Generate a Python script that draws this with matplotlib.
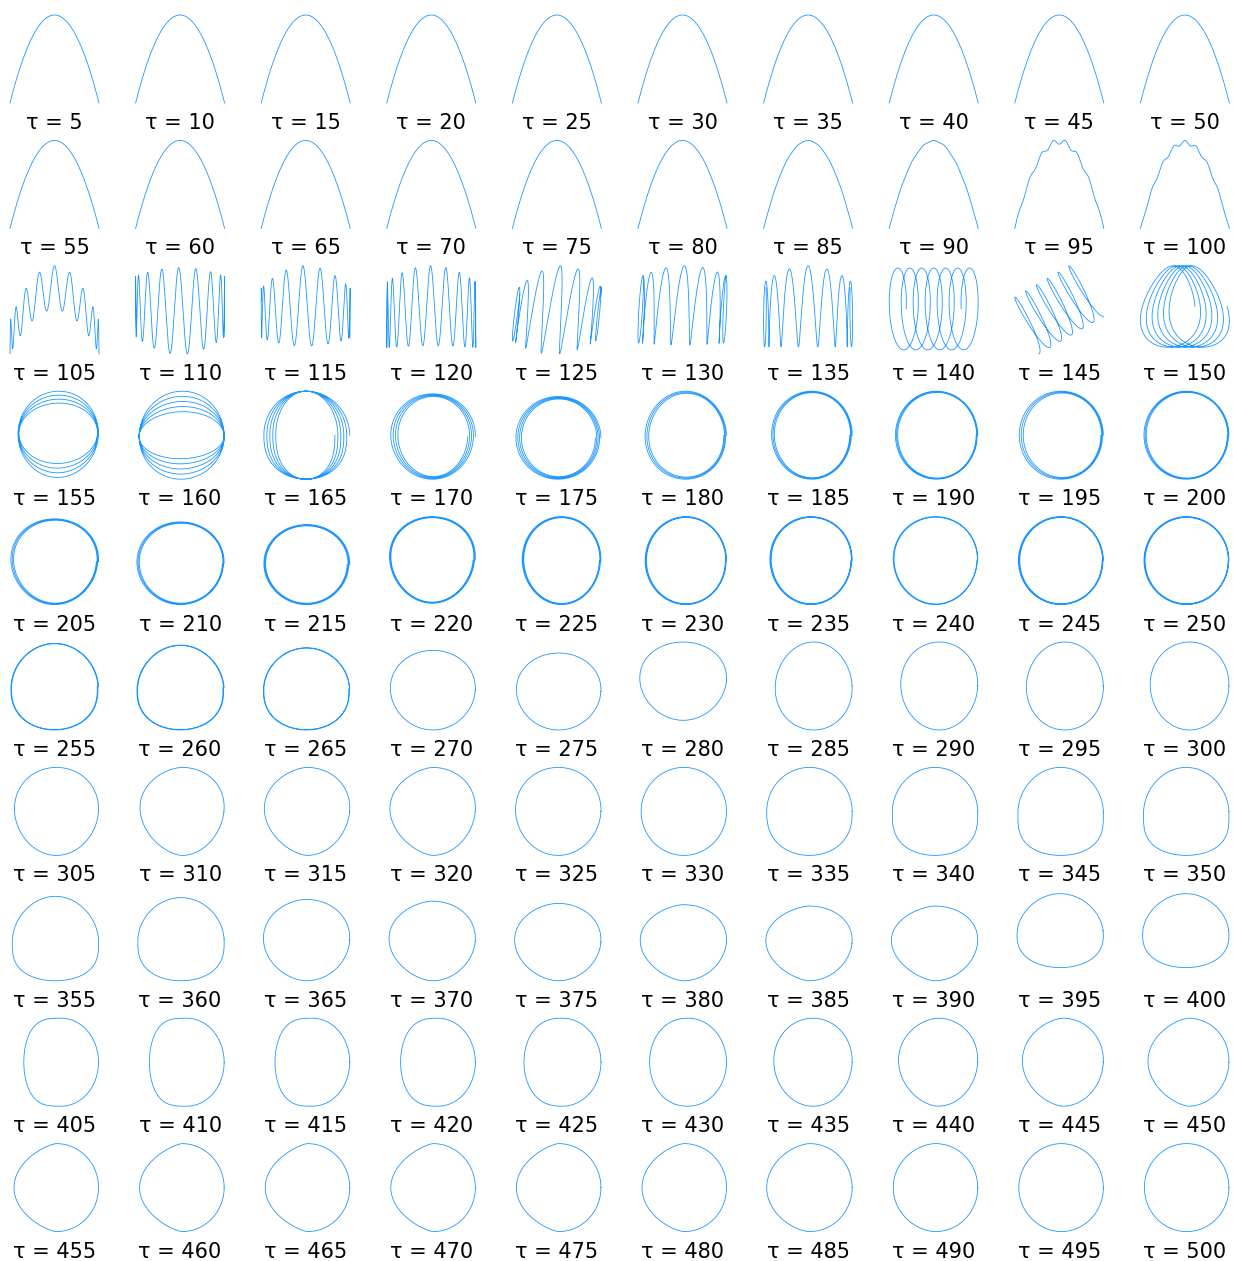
import numpy as np
import matplotlib
matplotlib.use('Agg')
import matplotlib.pyplot as plt

# delay values, one panel each (10 x 10)
taus = list(range(5, 505, 5))

# tau 5..100 : parabola arches, ripple on top for the last ones
arch_ripple = [0] * 16 + [0.005, 0.01, 0.06, 0.05]
arch_cycles = [0] * 16 + [8, 8, 7.5, 8]
arch_phase = [0] * 16 + [0, 0, np.pi, 0]

# tau 105..135 : oscillating traces
wave_k = [18, 16, 16, 18, 14, 14, 14]
wave_span = [1.571, 1.75, 1.7, 1.75, 1.8, 1.8, 1.75]
wave_phase = [0, 0.5, 1.0, 0.3, 0.8, 0.2, 0]
wave_top_mid = [1, 0.95, 1, 1, 1, 0.95, 1]
wave_top_edge = [-0.25, 0.75, 0.45, 0.6, 0.5, 0.7, 0.6]
wave_bot_mid = [0, -1, -0.95, -0.95, -1, -0.95, -1]
wave_bot_edge = [-1, -0.6, -0.75, -1, -0.7, -0.9, -1]
wave_width = [0, 0, 0, 0, 0.03, 0.04, 0.03]
wave_lean = [0, 0, 0, 0, 0.12, 0.05, 0]
wave_y0 = [-1, -1, -0.82, -0.86, -1, -0.8, -0.84]
wave_y1 = [1, 0.96, 1, 1, 1, 1, 1]

# tau 140..150 : drifting loops
loop_turns = [6.5, 6, 6]
loop_start = [(-0.75, 0), (-0.64, -0.42), (-0.35, 0)]
loop_end = [(0.75, 0), (0.64, 0.45), (0.35, 0)]
loop_a = [(0.22, 0), (0.29, -0.62), (0.6, 0)]
loop_b = [(0, 0.95), (0.08, 0.04), (0, 1)]
loop_egg = [0, 0, -0.3]
loop_y0 = [-0.91, -1, -0.85]
loop_y1 = [0.95, 1, 1]

# tau 155..500 : rings / closed curves (rows of 10)
ring_turns = [4, 5, 5, 4, 4, 3, 3, 3, 3, 3,
              3, 3, 3, 3, 3, 3, 3, 2, 3, 3,
              2, 2, 2, 1, 1, 1, 1, 1, 1, 1] + [1] * 40
ring_rx = [0.97, 1.0, 0.66, 0.8, 0.85, 0.9, 0.92, 0.94, 0.9, 0.94,
           0.93, 0.94, 0.94, 0.95, 0.95, 0.96, 0.96, 0.97, 0.96, 0.97,
           0.97, 0.97, 0.98] + [1] * 47
ring_ry = [0.62, 0.45, 1.0, 0.92, 0.92, 0.93, 0.95, 0.96, 0.94, 0.96,
           0.95, 0.95, 0.95, 0.96, 0.96, 0.97, 0.97, 0.97, 0.97, 0.97,
           0.98, 0.98, 0.98] + [1] * 47
ring_dx = [0, 0, 0, 0.02, 0.02, 0.03, 0.02, 0.02, 0.04, 0.02,
           0.02, 0.02, 0, 0, 0.01, 0.01, 0.01, 0.01, 0.01, 0.01] + [0] * 50
ring_dy = [0.03] + [0] * 69
ring_egg = [0.03, 0, 0, 0.03, 0, -0.03, 0.02, 0, 0, 0,
            0.06, 0.03, 0.03, 0.08, 0.03, 0, 0.03, 0.04, 0, 0,
            -0.04, -0.06, -0.03, 0.05, 0.05, 0.08, -0.05, 0.04, -0.03, 0.03,
            0.06, 0.1, 0.08, 0.08, 0.04, 0, 0, -0.02, -0.04, -0.05,
            -0.08, -0.05, 0.05, 0.07, 0.06, 0.08, 0.09, 0.1, -0.1, -0.1,
            0, 0, 0, 0, 0, 0, 0.03, 0.05, 0.04, 0.03,
            0, 0, 0, 0, 0, 0, 0, 0, 0, 0]
ring_point = [1] * 10 + [1] * 10 + \
             [1, 1, 1, 1, 1, 1, 1, 1, 1, 1] + \
             [1, 1.2, 1.25, 1.3, 1, 1, 1, 1, 1, 1] + \
             [1, 1, 1.1, 1.2, 1.15, 1.25, 1.3, 1.3, 1, 1] + \
             [0.6, 0.6, 0.65, 0.7, 0.8, 0.9, 1, 1.15, 1.25, 1.35] + \
             [1.45, 1.5, 1.5, 1.5, 1.45, 1.35, 1.25, 1.1, 1.05, 1]
ring_flat = [1, 1, 0.8, 1, 1, 1, 1, 1, 1, 1] + [1] * 10 + \
            [0.85, 0.85, 0.85, 1, 1, 1, 1, 1, 1, 1] + \
            [1, 1, 1, 1, 1, 1, 0.8, 0.7, 0.65, 0.65] + \
            [0.7, 0.75, 1, 1, 1, 1, 1, 1, 0.85, 0.85] + [1] * 20
ring_x0 = [-0.82, -0.92, -0.94, -0.91, -0.92, -0.84, -0.82, -0.86, -0.9, -0.92,
           -0.98, -0.97, -0.94, -0.94, -0.78, -0.84, -0.86, -0.91, -0.92, -0.92,
           -0.98, -0.97, -0.95, -0.92, -0.91, -0.96, -0.74, -0.74, -0.74, -0.78,
           -0.9, -0.9, -0.93, -0.93, -0.93, -0.93, -0.93, -0.93, -0.93, -0.93,
           -0.95, -0.95, -0.95, -0.95, -0.95, -0.95, -0.95, -0.95, -0.95, -0.95,
           -0.69, -0.69, -0.69, -0.69, -0.74, -0.74, -0.77, -0.79, -0.83, -0.83,
           -0.91, -0.91, -0.91, -0.91, -0.91, -0.91, -0.93, -0.91, -0.91, -0.91]
ring_x1 = [0.99] * 70
ring_y0 = [-0.96] + [-1] * 12 + [-0.97] + [-1] * 11 + [-0.78] + [-1] * 22 + \
          [-0.7, -0.7] + [-1] * 20
ring_y1 = [1, 1, 1, 0.94, 0.88, 1, 1, 1, 1, 1,
           0.95, 0.88, 0.82, 1, 1, 1, 1, 1, 1, 1,
           0.97, 0.93, 0.87, 0.81, 0.75, 1, 1, 1, 1, 1,
           1, 1, 1, 1, 1, 1, 1, 1, 1, 1,
           0.92, 0.89, 0.85, 0.81, 0.76, 0.73, 0.7, 0.7, 0.98, 0.98] + [1] * 20


def fit_box(x, y, x0, x1, y0, y1):
    x = x0 + (x - x.min()) / (x.max() - x.min()) * (x1 - x0)
    y = y0 + (y - y.min()) / (y.max() - y.min()) * (y1 - y0)
    return x, y


def arch(j):
    x = np.linspace(-1, 1, 1500)
    ripple = arch_ripple[j] * (1 - 0.5 * x ** 2)
    y = 1 - 2 * x ** 2 + ripple * np.cos(np.pi * arch_cycles[j] * x + arch_phase[j])
    return fit_box(x, y, -1, 1, -1, 1)


def wave(j):
    th = np.linspace(-wave_span[j], wave_span[j], 4000)
    xr = np.sin(th)
    up = wave_top_mid[j] - (wave_top_mid[j] - wave_top_edge[j]) * xr ** 2
    lo = wave_bot_mid[j] - (wave_bot_mid[j] - wave_bot_edge[j]) * xr ** 2
    ph = wave_k[j] * th + wave_phase[j]
    y = (up + lo) / 2 + (up - lo) / 2 * np.cos(ph)
    x = xr + wave_width[j] * np.sin(ph) + wave_lean[j] * y
    return fit_box(x, y, -1, 1, wave_y0[j], wave_y1[j])


def loops(j):
    th = np.linspace(0, 2 * np.pi * loop_turns[j], 5000)
    u = th / th[-1]
    # egg factor squeezes the loops (and their drift) toward the top
    k = 1 + loop_egg[j] * np.sin(th)
    cx = loop_start[j][0] + (loop_end[j][0] - loop_start[j][0]) * u
    cy = loop_start[j][1] + (loop_end[j][1] - loop_start[j][1]) * u
    x = (cx + loop_a[j][0] * np.cos(th)) * k + loop_b[j][0] * np.sin(th)
    y = cy + loop_a[j][1] * np.cos(th) * k + loop_b[j][1] * np.sin(th)
    return fit_box(x, y, -1, 1, loop_y0[j], loop_y1[j])


def ring(j):
    th = np.linspace(0, 2 * np.pi * ring_turns[j], 900 * ring_turns[j])
    u = th / th[-1]
    c, s = np.cos(th), np.sin(th)
    cq = np.where(c < 0, -np.abs(c) ** ring_point[j], c)
    sq = np.where(s < 0, -np.abs(s) ** ring_flat[j], s)
    ax_ = 1 + (ring_rx[j] - 1) * u
    ay_ = 1 + (ring_ry[j] - 1) * u
    x = ring_dx[j] * u + ax_ * cq * (1 + ring_egg[j] * s)
    y = ring_dy[j] * u + ay_ * sq
    return fit_box(x, y, ring_x0[j], ring_x1[j], ring_y0[j], ring_y1[j])


W, H = 1233, 1261
fig = plt.figure(figsize=(W / 100, H / 100), dpi=100)

for i, tau in enumerate(taus):
    r, c = divmod(i, 10)
    left = 10 + 125.6 * c
    top = 15 + 125.4 * r
    ax = fig.add_axes([left / W, 1 - (top + 88) / H, 89 / W, 88 / H])
    if i < 20:
        x, y = arch(i)
    elif i < 27:
        x, y = wave(i - 20)
    elif i < 30:
        x, y = loops(i - 27)
    else:
        x, y = ring(i - 30)
    ax.plot(x, y, color='#1e96ff', lw=0.6, clip_on=False)
    ax.set_xlim(-1, 1)
    ax.set_ylim(-1, 1)
    ax.axis('off')
    ax.text(0.5, -26 / 88, f'τ = {tau}', transform=ax.transAxes,
            ha='center', va='baseline', fontsize=15)

fig.savefig('out.png', dpi=100)
